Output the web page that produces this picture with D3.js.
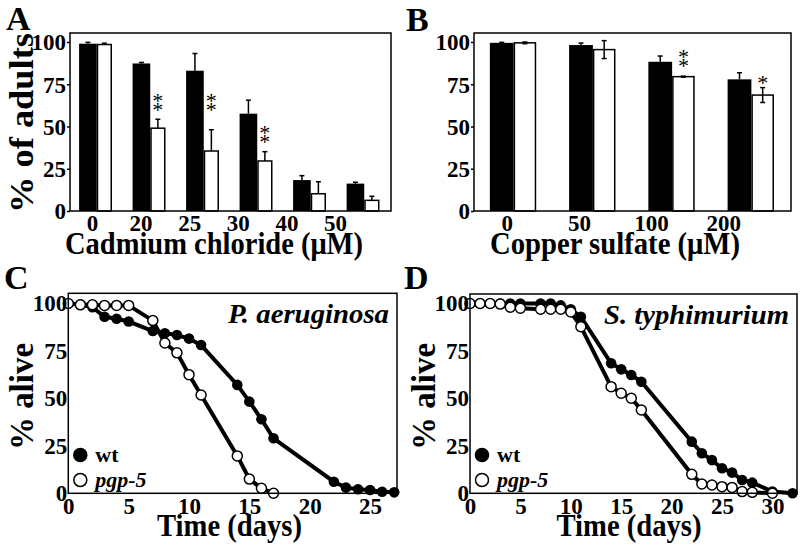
<!DOCTYPE html>
<html><head><meta charset="utf-8">
<script src="https://cdn.jsdelivr.net/npm/d3@7"></script>
<style>
body{margin:0;background:#fff}
svg{display:block}
</style>
</head><body>
<svg id="fig" width="800" height="556" font-family="Liberation Serif" font-weight="bold"></svg>
<script>
// ---------- DATA ----------
// Panel A: cadmium chloride
const cadmiumDoses = ["0", "20", "25", "30", "40", "50"];
const cadmiumWt = [99, 87.3, 83, 57.6, 18.3, 16.2];
const cadmiumWtErr = [0.8, 0.6, 10.2, 8, 2.6, 0.8];
const cadmiumPgp = [98.5, 49, 35.5, 29.6, 10.2, 6.3];
const cadmiumPgpErr = [0.8, 5.3, 12.6, 5.5, 7.1, 2.4];
const cadmiumStars = ["", "**", "**", "**", "", ""];
const cadmiumStarLevel = [0, 66.9, 66.9, 48, 0, 0];

// Panel B: copper sulfate
const copperDoses = ["0", "50", "100", "200"];
const copperWt = [99.5, 98.2, 88.3, 77.9];
const copperWtErr = [0.3, 1.2, 3.4, 3.9];
const copperPgp = [99.5, 95.5, 79.5, 68.6];
const copperPgpErr = [0.5, 5.3, 0.3, 4.4];
const copperStars = ["", "", "**", "*"];
const copperStarLevel = [0, 0, 92.9, 77.5];

const barTicks = [0, 25, 50, 75, 100];

// Panel C: P. aeruginosa survival
const paDaysWt = [0, 1, 2, 3, 4, 5, 7, 8, 9, 10, 11, 14, 15, 16, 17, 22, 23, 24, 25, 26, 27];
const paWt = [100, 99.5, 98, 93, 92, 90.5, 85.5, 84.3, 83.4, 81.5, 78.1, 57.1, 48.3, 39, 29, 6.1, 3, 2.1, 1.7, 0.8, 0.5];
const paDaysPgp = [0, 1, 2, 3, 4, 5, 7, 8, 9, 10, 11, 14, 15, 16, 17];
const paPgp = [100, 99.3, 99.3, 99, 99, 99, 91, 79.2, 74, 62.5, 51.8, 19.7, 7.5, 2.6, 0];
const paTicksX = [0, 5, 10, 15, 20, 25];

// Panel D: S. typhimurium survival
const stDaysWt = [0, 1, 2, 3, 4, 5, 7, 8, 9, 10, 11, 14, 15, 16, 17, 22, 23, 24, 25, 26, 27, 28, 30, 32];
const stWt = [100, 100, 100, 100, 100, 100, 100, 100, 99, 97, 93, 68.5, 65.3, 62.3, 58.8, 27.2, 21.1, 17.5, 13.2, 10.9, 7, 5.6, 0.9, 0];
const stDaysPgp = [0, 1, 2, 3, 4, 5, 7, 8, 9, 10, 11, 14, 15, 16, 17, 22, 23, 24, 25, 26, 27, 28, 30];
const stPgp = [100, 100, 100, 99.7, 98, 97.5, 97, 97, 97, 95.5, 87.8, 56.2, 52.7, 50.1, 43.9, 10, 4.9, 4.4, 3.5, 3.1, 0.9, 0.5, 0];
const stTicksX = [0, 5, 10, 15, 20, 25, 30];

const survivalTicks = [0, 25, 50, 75, 100];
const legendLabels = ["wt", "pgp-5"];

// ---------- DRAW ----------
const FONT = "Liberation Serif";
const svg = d3.select("#fig");

function txt(sel) {
  return sel.append("text").attr("font-family", FONT).attr("font-weight", "bold").attr("fill", "#000");
}

function panelLetter(t, x, y) {
  txt(svg).attr("x", x).attr("y", y).attr("font-size", 34).text(t);
}

function styleAxis(a, size) {
  a.attr("font-family", FONT).attr("font-weight", "bold");
  a.select(".domain").remove();
  a.selectAll("text").attr("font-size", size).attr("font-family", FONT).attr("font-weight", "bold").attr("fill", "#000");
}

function barPanel(o) {
  const g = svg.append("g");
  const x = d3.scaleBand().domain(o.doses).range([o.x0, o.x1]).padding(0);
  const xl = d3.scalePoint().domain(o.doses).range(o.labelRange);
  const y = d3.scaleLinear().domain([0, 100]).range([o.y1, o.y1 - 169]);
  const bw = x.bandwidth();
  const c = d => x(d) + bw / 2;
  const wB = bw * o.wFrac, wW = bw * o.wwFrac;

  g.selectAll(".wt").data(o.doses).join("rect")
    .attr("x", d => c(d) - wB).attr("width", wB)
    .attr("y", (d, i) => y(o.wt[i])).attr("height", (d, i) => o.y1 - y(o.wt[i]))
    .attr("fill", "#000");
  g.selectAll(".pg").data(o.doses).join("rect")
    .attr("x", d => c(d) + 0.75).attr("width", wW - 1.5)
    .attr("y", (d, i) => y(o.pgp[i])).attr("height", (d, i) => o.y1 - y(o.pgp[i]))
    .attr("fill", "#fff").attr("stroke", "#000").attr("stroke-width", 1.5);

  function err(vals, errs, cx, both) {
    o.doses.forEach((d, i) => {
      const xc = cx(d), top = y(vals[i] + errs[i]);
      const bot = both ? y(vals[i] - errs[i]) : y(vals[i]);
      g.append("line").attr("x1", xc).attr("x2", xc).attr("y1", top).attr("y2", bot)
        .attr("stroke", "#000").attr("stroke-width", 1.5);
      g.append("line").attr("x1", xc - 2.5).attr("x2", xc + 2.5).attr("y1", top).attr("y2", top)
        .attr("stroke", "#000").attr("stroke-width", 1.5);
      if (both) g.append("line").attr("x1", xc - 2.5).attr("x2", xc + 2.5).attr("y1", bot).attr("y2", bot)
        .attr("stroke", "#000").attr("stroke-width", 1.5);
    });
  }
  err(o.wt, o.wtErr, d => c(d) - wB / 2, false);
  err(o.pgp, o.pgpErr, d => c(d) + wW / 2, o.bothErr);

  // significance stars: one text per bar, stacked with tspans
  o.doses.forEach((d, i) => {
    const s = o.stars[i];
    if (!s) return;
    const t = txt(g).attr("text-anchor", "middle").attr("font-size", 22).attr("font-weight", "normal");
    for (let k = 0; k < s.length; k++) {
      t.append("tspan").attr("x", c(d) + wW / 2)
        .attr("y", y(o.starLevel[i]) + k * 9 + 10).text("*");
    }
  });

  g.append("rect").attr("x", o.x0).attr("y", o.y0).attr("width", o.x1 - o.x0).attr("height", o.y1 - o.y0)
    .attr("fill", "none").attr("stroke", "#000").attr("stroke-width", 1.5);

  const ya = g.append("g").attr("transform", `translate(${o.x0},0)`)
    .call(d3.axisLeft(y).tickValues(barTicks).tickSize(3).tickPadding(1));
  styleAxis(ya, 23);
  ya.selectAll("line").attr("stroke-width", 1.5);
  ya.selectAll("text").attr("dy", "0.34em");

  const xa = g.append("g").attr("transform", `translate(0,${o.y1})`)
    .call(d3.axisBottom(xl).tickSize(0).tickPadding(3.5));
  styleAxis(xa, 23);

  txt(g).attr("x", o.titleX).attr("y", 254).attr("text-anchor", "middle")
    .attr("font-size", 31).attr("textLength", o.titleLen).attr("lengthAdjust", "spacingAndGlyphs")
    .text(o.title);
  if (o.yTitle) {
    txt(g).attr("transform", `translate(${o.yTitleX},123) rotate(-90)`).attr("text-anchor", "middle")
      .attr("font-size", 33).attr("textLength", 180).attr("lengthAdjust", "spacingAndGlyphs").text(o.yTitle);
  }
}

function survPanel(o) {
  const g = svg.append("g");
  const x = d3.scaleLinear().domain([0, o.xMax]).range([o.x0, o.x1]);
  const y = d3.scaleLinear().domain([0, 100]).range([o.y1, o.y1 - 189.8]);
  const line = d3.line().x(d => x(d[0])).y(d => y(d[1]));
  const wt = o.daysWt.map((d, i) => [d, o.wt[i]]);
  const pg = o.daysPgp.map((d, i) => [d, o.pgp[i]]);

  g.append("path").datum(wt).attr("d", line).attr("fill", "none").attr("stroke", "#000").attr("stroke-width", 4);
  g.selectAll(".pw").data(wt).join("circle").attr("cx", d => x(d[0])).attr("cy", d => y(d[1]))
    .attr("r", 5.3).attr("fill", "#000");
  g.append("path").datum(pg).attr("d", line).attr("fill", "none").attr("stroke", "#000").attr("stroke-width", 4);
  g.selectAll(".pp").data(pg).join("circle").attr("cx", d => x(d[0])).attr("cy", d => y(d[1]))
    .attr("r", 5).attr("fill", "#fff").attr("stroke", "#000").attr("stroke-width", 1.5);

  g.append("rect").attr("x", o.x0).attr("y", o.y0).attr("width", o.x1 - o.x0).attr("height", o.y1 - o.y0)
    .attr("fill", "none").attr("stroke", "#000").attr("stroke-width", 1.5);

  const ya = g.append("g").attr("transform", `translate(${o.x0},0)`)
    .call(d3.axisLeft(y).tickValues(survivalTicks).tickSize(0).tickPadding(1));
  styleAxis(ya, 23);

  const xa = g.append("g").attr("transform", `translate(0,${o.y1})`)
    .call(d3.axisBottom(x).tickValues(o.ticksX).tickSize(0).tickPadding(4));
  styleAxis(xa, 23);

  txt(g).attr("x", o.titleX).attr("y", 536).attr("text-anchor", "middle")
    .attr("font-size", 31).attr("textLength", 145).attr("lengthAdjust", "spacingAndGlyphs").text("Time (days)");
  txt(g).attr("transform", `translate(${o.x0 - 35},396.5) rotate(-90)`).attr("text-anchor", "middle")
    .attr("font-size", 33).attr("textLength", 107).attr("lengthAdjust", "spacingAndGlyphs").text("% alive");

  txt(g).attr("x", o.x1 - 8).attr("y", o.y0 + 29.5).attr("text-anchor", "end")
    .attr("font-size", 28).attr("font-style", "italic").attr("textLength", o.pathLen).attr("lengthAdjust", "spacingAndGlyphs")
    .text(o.pathogen);

  legendLabels.forEach((lab, i) => {
    const ly = 455 + i * 25;
    g.append("circle").attr("cx", o.x0 + 12).attr("cy", ly).attr("r", 6.5)
      .attr("fill", i === 0 ? "#000" : "#fff").attr("stroke", "#000").attr("stroke-width", 1.5);
    const t = txt(g).attr("x", o.x0 + 27).attr("y", ly + 7).attr("font-size", 22).text(lab);
    if (i === 1) t.attr("font-style", "italic");
  });
}

panelLetter("A", 6, 30);
panelLetter("B", 406, 31);
panelLetter("C", 4, 289);
panelLetter("D", 404, 289);

barPanel({
  doses: cadmiumDoses, wt: cadmiumWt, wtErr: cadmiumWtErr, pgp: cadmiumPgp, pgpErr: cadmiumPgpErr,
  stars: cadmiumStars, starLevel: cadmiumStarLevel, bothErr: false,
  x0: 70, x1: 391, y0: 33, y1: 211, wFrac: 0.33, wwFrac: 0.285,
  labelRange: [92, 335], title: "Cadmium chloride (\u03bcM)", titleX: 214, titleLen: 298,
  yTitle: "% of adults", yTitleX: 33
});
barPanel({
  doses: copperDoses, wt: copperWt, wtErr: copperWtErr, pgp: copperPgp, pgpErr: copperPgpErr,
  stars: copperStars, starLevel: copperStarLevel, bothErr: true,
  x0: 474, x1: 791, y0: 33, y1: 211, wFrac: 0.30, wwFrac: 0.285,
  labelRange: [506.7, 723.3], title: "Copper sulfate (\u03bcM)", titleX: 615, titleLen: 250
});
survPanel({
  daysWt: paDaysWt, wt: paWt, daysPgp: paDaysPgp, pgp: paPgp, ticksX: paTicksX,
  x0: 68.3, x1: 397, y0: 293.3, y1: 493.3, xMax: 27.23, titleX: 229.5,
  pathogen: "P. aeruginosa", pathLen: 161
});
survPanel({
  daysWt: stDaysWt, wt: stWt, daysPgp: stDaysPgp, pgp: stPgp, ticksX: stTicksX,
  x0: 470, x1: 797, y0: 294, y1: 493.3, xMax: 32.44, titleX: 629,
  pathogen: "S. typhimurium", pathLen: 185
});
</script>
</body></html>
